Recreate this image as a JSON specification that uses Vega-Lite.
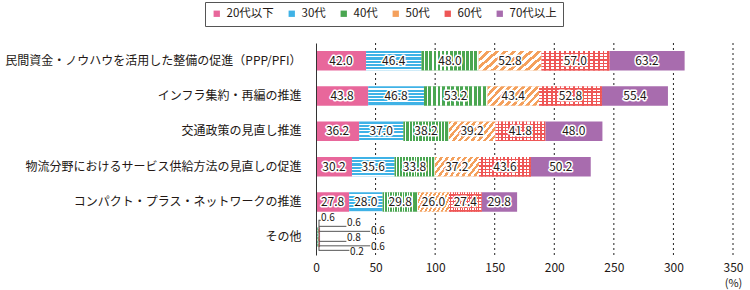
{
  "$schema": "https://vega.github.io/schema/vega-lite/v6.json",
  "width": 417,
  "height": 212,
  "autosize": {"type": "none"},
  "padding": {"left": 316, "top": 43, "right": 17, "bottom": 35},
  "background": "white",
  "config": {
    "font": "Noto Sans CJK JP",
    "view": {"stroke": null},
    "axis": {"labelColor": "#231815", "titleColor": "#231815"},
    "axisX": {"grid": false, "domain": false, "ticks": false, "labelFontSize": 12, "labelPadding": 7, "labelFlush": false, "titleFontSize": 11, "titleFontWeight": "normal", "titleAnchor": "end", "titleAlign": "center", "titleBaseline": "middle", "titleX": 417, "titleY": 28}
  },
  "data": {
    "values": [
      {"item": "民間資金・ノウハウを活用した整備の促進（PPP/PFI）", "20代以下": 42.0, "30代": 46.4, "40代": 48.0, "50代": 52.8, "60代": 57.0, "70代以上": 63.2},
      {"item": "インフラ集約・再編の推進", "20代以下": 43.8, "30代": 46.8, "40代": 53.2, "50代": 43.4, "60代": 52.8, "70代以上": 55.4},
      {"item": "交通政策の見直し推進", "20代以下": 36.2, "30代": 37.0, "40代": 38.2, "50代": 39.2, "60代": 41.8, "70代以上": 48.0},
      {"item": "物流分野におけるサービス供給方法の見直しの促進", "20代以下": 30.2, "30代": 35.6, "40代": 33.8, "50代": 37.2, "60代": 43.6, "70代以上": 50.2},
      {"item": "コンパクト・プラス・ネットワークの推進", "20代以下": 27.8, "30代": 28.0, "40代": 29.8, "50代": 26.0, "60代": 27.4, "70代以上": 29.8},
      {"item": "その他", "20代以下": 0.6, "30代": 0.6, "40代": 0.6, "50代": 0.8, "60代": 0.6, "70代以上": 0.2}
    ]
  },
  "transform": [
    {"fold": ["20代以下", "30代", "40代", "50代", "60代", "70代以上"], "as": ["age", "value"]},
    {"stack": "value", "groupby": ["item"], "sort": [{"field": "age", "order": "ascending"}], "as": ["x0", "x1"]},
    {"calculate": "(datum.x0 + datum.x1) / 2", "as": "mid"}
  ],
  "layer": [
    {
      "transform": [{"filter": "datum.item === 'その他' && datum.age === '20代以下'"}],
      "mark": {"type": "rule", "color": "#222222", "strokeWidth": 1, "strokeDash": [2, 3]},
      "encoding": {"x": {"datum": 50, "type": "quantitative", "title": "(%)"}}
    },
    {
      "transform": [{"filter": "datum.item === 'その他' && datum.age === '20代以下'"}],
      "mark": {"type": "rule", "color": "#222222", "strokeWidth": 1, "strokeDash": [2, 3]},
      "encoding": {"x": {"datum": 100, "type": "quantitative", "title": "(%)"}}
    },
    {
      "transform": [{"filter": "datum.item === 'その他' && datum.age === '20代以下'"}],
      "mark": {"type": "rule", "color": "#222222", "strokeWidth": 1, "strokeDash": [2, 3]},
      "encoding": {"x": {"datum": 150, "type": "quantitative", "title": "(%)"}}
    },
    {
      "transform": [{"filter": "datum.item === 'その他' && datum.age === '20代以下'"}],
      "mark": {"type": "rule", "color": "#222222", "strokeWidth": 1, "strokeDash": [2, 3]},
      "encoding": {"x": {"datum": 200, "type": "quantitative", "title": "(%)"}}
    },
    {
      "transform": [{"filter": "datum.item === 'その他' && datum.age === '20代以下'"}],
      "mark": {"type": "rule", "color": "#222222", "strokeWidth": 1, "strokeDash": [2, 3]},
      "encoding": {"x": {"datum": 250, "type": "quantitative", "title": "(%)"}}
    },
    {
      "transform": [{"filter": "datum.item === 'その他' && datum.age === '20代以下'"}],
      "mark": {"type": "rule", "color": "#222222", "strokeWidth": 1, "strokeDash": [2, 3]},
      "encoding": {"x": {"datum": 300, "type": "quantitative", "title": "(%)"}}
    },
    {
      "transform": [{"filter": "datum.item === 'その他' && datum.age === '20代以下'"}],
      "mark": {"type": "rule", "color": "#222222", "strokeWidth": 1, "strokeDash": [2, 3]},
      "encoding": {"x": {"datum": 350, "type": "quantitative", "title": "(%)"}}
    },
    {
      "mark": {"type": "bar"},
      "encoding": {
        "y": {
          "field": "item",
          "type": "nominal",
          "sort": null,
          "scale": {
            "domain": ["民間資金・ノウハウを活用した整備の促進（PPP/PFI）", "インフラ集約・再編の推進", "交通政策の見直し推進", "物流分野におけるサービス供給方法の見直しの促進", "コンパクト・プラス・ネットワークの推進", "その他"],
            "paddingInner": 0.45,
            "paddingOuter": 0.225
          },
          "axis": {"title": null, "labelFontSize": 12, "labelLimit": 400, "ticks": false, "domain": true, "domainColor": "#333333", "domainWidth": 1, "labelPadding": 15, "zindex": 1, "grid": false}
        },
        "x": {
          "field": "x0",
          "type": "quantitative",
          "title": "(%)",
          "scale": {"domain": [0, 350], "nice": false, "zero": true},
          "axis": {"values": [0, 50, 100, 150, 200, 250, 300, 350], "grid": false}
        },
        "x2": {"field": "x1"},
        "color": {
          "field": "age",
          "type": "nominal",
          "scale": {"domain": ["20代以下", "30代", "40代", "50代", "60代", "70代以上"], "range": ["#e8679b", "#3fb2e6", "#4aa651", "#f4a05c", "#ee5656", "#a86cae"]},
          "legend": {"title": null, "orient": "none", "legendX": -111, "legendY": -41, "direction": "horizontal", "columns": 6, "gridAlign": "none", "symbolType": "square", "symbolSize": 40, "labelFontSize": 11.5, "labelOffset": 4, "columnPadding": 12, "padding": 6, "strokeColor": "#555555", "symbolStrokeWidth": 0, "labelColor": "#231815"}
        }
      }
    },
    {
      "transform": [{"filter": {"field": "age", "equal": "30代"}}],
      "mark": {"type": "bar", "fill": {"gradient": "linear", "x1": 0, "y1": 0, "x2": 0, "y2": 1, "stops": [
        {"offset": 0, "color": "rgba(255,255,255,0)"}, {"offset": 0.1083, "color": "rgba(255,255,255,0)"}, {"offset": 0.1083, "color": "#ffffff"}, {"offset": 0.1667, "color": "#ffffff"},
        {"offset": 0.1667, "color": "rgba(255,255,255,0)"}, {"offset": 0.275, "color": "rgba(255,255,255,0)"}, {"offset": 0.275, "color": "#ffffff"}, {"offset": 0.3333, "color": "#ffffff"},
        {"offset": 0.3333, "color": "rgba(255,255,255,0)"}, {"offset": 0.4417, "color": "rgba(255,255,255,0)"}, {"offset": 0.4417, "color": "#ffffff"}, {"offset": 0.5, "color": "#ffffff"},
        {"offset": 0.5, "color": "rgba(255,255,255,0)"}, {"offset": 0.6083, "color": "rgba(255,255,255,0)"}, {"offset": 0.6083, "color": "#ffffff"}, {"offset": 0.6667, "color": "#ffffff"},
        {"offset": 0.6667, "color": "rgba(255,255,255,0)"}, {"offset": 0.775, "color": "rgba(255,255,255,0)"}, {"offset": 0.775, "color": "#ffffff"}, {"offset": 0.8333, "color": "#ffffff"},
        {"offset": 0.8333, "color": "rgba(255,255,255,0)"}, {"offset": 0.9417, "color": "rgba(255,255,255,0)"}, {"offset": 0.9417, "color": "#ffffff"}, {"offset": 1, "color": "#ffffff"}
      ]}},
      "encoding": {"y": {"field": "item", "type": "nominal"}, "x": {"field": "x0", "type": "quantitative", "title": "(%)"}, "x2": {"field": "x1"}}
    },
    {
      "transform": [{"filter": {"field": "age", "equal": "40代"}}],
      "mark": {"type": "bar", "fill": {"gradient": "linear", "x1": 0, "y1": 0, "x2": 1, "y2": 0, "stops": [
        {"offset": 0, "color": "rgba(255,255,255,0)"}, {"offset": 0.0464, "color": "rgba(255,255,255,0)"}, {"offset": 0.0464, "color": "#ffffff"}, {"offset": 0.0714, "color": "#ffffff"},
        {"offset": 0.0714, "color": "rgba(255,255,255,0)"}, {"offset": 0.1179, "color": "rgba(255,255,255,0)"}, {"offset": 0.1179, "color": "#ffffff"}, {"offset": 0.1429, "color": "#ffffff"},
        {"offset": 0.1429, "color": "rgba(255,255,255,0)"}, {"offset": 0.1893, "color": "rgba(255,255,255,0)"}, {"offset": 0.1893, "color": "#ffffff"}, {"offset": 0.2143, "color": "#ffffff"},
        {"offset": 0.2143, "color": "rgba(255,255,255,0)"}, {"offset": 0.2607, "color": "rgba(255,255,255,0)"}, {"offset": 0.2607, "color": "#ffffff"}, {"offset": 0.2857, "color": "#ffffff"},
        {"offset": 0.2857, "color": "rgba(255,255,255,0)"}, {"offset": 0.3321, "color": "rgba(255,255,255,0)"}, {"offset": 0.3321, "color": "#ffffff"}, {"offset": 0.3571, "color": "#ffffff"},
        {"offset": 0.3571, "color": "rgba(255,255,255,0)"}, {"offset": 0.4036, "color": "rgba(255,255,255,0)"}, {"offset": 0.4036, "color": "#ffffff"}, {"offset": 0.4286, "color": "#ffffff"},
        {"offset": 0.4286, "color": "rgba(255,255,255,0)"}, {"offset": 0.475, "color": "rgba(255,255,255,0)"}, {"offset": 0.475, "color": "#ffffff"}, {"offset": 0.5, "color": "#ffffff"},
        {"offset": 0.5, "color": "rgba(255,255,255,0)"}, {"offset": 0.5464, "color": "rgba(255,255,255,0)"}, {"offset": 0.5464, "color": "#ffffff"}, {"offset": 0.5714, "color": "#ffffff"},
        {"offset": 0.5714, "color": "rgba(255,255,255,0)"}, {"offset": 0.6179, "color": "rgba(255,255,255,0)"}, {"offset": 0.6179, "color": "#ffffff"}, {"offset": 0.6429, "color": "#ffffff"},
        {"offset": 0.6429, "color": "rgba(255,255,255,0)"}, {"offset": 0.6893, "color": "rgba(255,255,255,0)"}, {"offset": 0.6893, "color": "#ffffff"}, {"offset": 0.7143, "color": "#ffffff"},
        {"offset": 0.7143, "color": "rgba(255,255,255,0)"}, {"offset": 0.7607, "color": "rgba(255,255,255,0)"}, {"offset": 0.7607, "color": "#ffffff"}, {"offset": 0.7857, "color": "#ffffff"},
        {"offset": 0.7857, "color": "rgba(255,255,255,0)"}, {"offset": 0.8321, "color": "rgba(255,255,255,0)"}, {"offset": 0.8321, "color": "#ffffff"}, {"offset": 0.8571, "color": "#ffffff"},
        {"offset": 0.8571, "color": "rgba(255,255,255,0)"}, {"offset": 0.9036, "color": "rgba(255,255,255,0)"}, {"offset": 0.9036, "color": "#ffffff"}, {"offset": 0.9286, "color": "#ffffff"},
        {"offset": 0.9286, "color": "rgba(255,255,255,0)"}, {"offset": 0.975, "color": "rgba(255,255,255,0)"}, {"offset": 0.975, "color": "#ffffff"}, {"offset": 1, "color": "#ffffff"}
      ]}},
      "encoding": {"y": {"field": "item", "type": "nominal"}, "x": {"field": "x0", "type": "quantitative", "title": "(%)"}, "x2": {"field": "x1"}}
    },
    {
      "transform": [{"filter": {"field": "age", "equal": "50代"}}],
      "mark": {"type": "bar", "fill": {"gradient": "linear", "x1": 0, "y1": 0, "x2": 1.2, "y2": 0.42, "stops": [
        {"offset": 0, "color": "rgba(255,255,255,0)"}, {"offset": 0.05, "color": "rgba(255,255,255,0)"}, {"offset": 0.05, "color": "#ffffff"}, {"offset": 0.1, "color": "#ffffff"},
        {"offset": 0.1, "color": "rgba(255,255,255,0)"}, {"offset": 0.15, "color": "rgba(255,255,255,0)"}, {"offset": 0.15, "color": "#ffffff"}, {"offset": 0.2, "color": "#ffffff"},
        {"offset": 0.2, "color": "rgba(255,255,255,0)"}, {"offset": 0.25, "color": "rgba(255,255,255,0)"}, {"offset": 0.25, "color": "#ffffff"}, {"offset": 0.3, "color": "#ffffff"},
        {"offset": 0.3, "color": "rgba(255,255,255,0)"}, {"offset": 0.35, "color": "rgba(255,255,255,0)"}, {"offset": 0.35, "color": "#ffffff"}, {"offset": 0.4, "color": "#ffffff"},
        {"offset": 0.4, "color": "rgba(255,255,255,0)"}, {"offset": 0.45, "color": "rgba(255,255,255,0)"}, {"offset": 0.45, "color": "#ffffff"}, {"offset": 0.5, "color": "#ffffff"},
        {"offset": 0.5, "color": "rgba(255,255,255,0)"}, {"offset": 0.55, "color": "rgba(255,255,255,0)"}, {"offset": 0.55, "color": "#ffffff"}, {"offset": 0.6, "color": "#ffffff"},
        {"offset": 0.6, "color": "rgba(255,255,255,0)"}, {"offset": 0.65, "color": "rgba(255,255,255,0)"}, {"offset": 0.65, "color": "#ffffff"}, {"offset": 0.7, "color": "#ffffff"},
        {"offset": 0.7, "color": "rgba(255,255,255,0)"}, {"offset": 0.75, "color": "rgba(255,255,255,0)"}, {"offset": 0.75, "color": "#ffffff"}, {"offset": 0.8, "color": "#ffffff"},
        {"offset": 0.8, "color": "rgba(255,255,255,0)"}, {"offset": 0.85, "color": "rgba(255,255,255,0)"}, {"offset": 0.85, "color": "#ffffff"}, {"offset": 0.9, "color": "#ffffff"},
        {"offset": 0.9, "color": "rgba(255,255,255,0)"}, {"offset": 0.95, "color": "rgba(255,255,255,0)"}, {"offset": 0.95, "color": "#ffffff"}, {"offset": 1, "color": "#ffffff"}
      ]}},
      "encoding": {"y": {"field": "item", "type": "nominal"}, "x": {"field": "x0", "type": "quantitative", "title": "(%)"}, "x2": {"field": "x1"}}
    },
    {
      "transform": [{"filter": {"field": "age", "equal": "60代"}}],
      "mark": {"type": "bar", "fill": "#ffffff"},
      "encoding": {"y": {"field": "item", "type": "nominal"}, "x": {"field": "x0", "type": "quantitative", "title": "(%)"}, "x2": {"field": "x1"}}
    },
    {
      "transform": [{"filter": {"field": "age", "equal": "60代"}}],
      "mark": {"type": "bar", "fill": {"gradient": "linear", "x1": 0, "y1": 0, "x2": 0, "y2": 1, "stops": [
        {"offset": 0, "color": "rgba(238,86,86,0)"}, {"offset": 0.1, "color": "rgba(238,86,86,0)"}, {"offset": 0.1, "color": "#ee5656"}, {"offset": 0.1667, "color": "#ee5656"},
        {"offset": 0.1667, "color": "rgba(238,86,86,0)"}, {"offset": 0.2667, "color": "rgba(238,86,86,0)"}, {"offset": 0.2667, "color": "#ee5656"}, {"offset": 0.3333, "color": "#ee5656"},
        {"offset": 0.3333, "color": "rgba(238,86,86,0)"}, {"offset": 0.4333, "color": "rgba(238,86,86,0)"}, {"offset": 0.4333, "color": "#ee5656"}, {"offset": 0.5, "color": "#ee5656"},
        {"offset": 0.5, "color": "rgba(238,86,86,0)"}, {"offset": 0.6, "color": "rgba(238,86,86,0)"}, {"offset": 0.6, "color": "#ee5656"}, {"offset": 0.6667, "color": "#ee5656"},
        {"offset": 0.6667, "color": "rgba(238,86,86,0)"}, {"offset": 0.7667, "color": "rgba(238,86,86,0)"}, {"offset": 0.7667, "color": "#ee5656"}, {"offset": 0.8333, "color": "#ee5656"},
        {"offset": 0.8333, "color": "rgba(238,86,86,0)"}, {"offset": 0.9333, "color": "rgba(238,86,86,0)"}, {"offset": 0.9333, "color": "#ee5656"}, {"offset": 1, "color": "#ee5656"}
      ]}},
      "encoding": {"y": {"field": "item", "type": "nominal"}, "x": {"field": "x0", "type": "quantitative", "title": "(%)"}, "x2": {"field": "x1"}}
    },
    {
      "transform": [{"filter": {"field": "age", "equal": "60代"}}],
      "mark": {"type": "bar", "fill": {"gradient": "linear", "x1": 0, "y1": 0, "x2": 1, "y2": 0, "stops": [
        {"offset": 0, "color": "rgba(238,86,86,0)"}, {"offset": 0.0429, "color": "rgba(238,86,86,0)"}, {"offset": 0.0429, "color": "#ee5656"}, {"offset": 0.0714, "color": "#ee5656"},
        {"offset": 0.0714, "color": "rgba(238,86,86,0)"}, {"offset": 0.1143, "color": "rgba(238,86,86,0)"}, {"offset": 0.1143, "color": "#ee5656"}, {"offset": 0.1429, "color": "#ee5656"},
        {"offset": 0.1429, "color": "rgba(238,86,86,0)"}, {"offset": 0.1857, "color": "rgba(238,86,86,0)"}, {"offset": 0.1857, "color": "#ee5656"}, {"offset": 0.2143, "color": "#ee5656"},
        {"offset": 0.2143, "color": "rgba(238,86,86,0)"}, {"offset": 0.2571, "color": "rgba(238,86,86,0)"}, {"offset": 0.2571, "color": "#ee5656"}, {"offset": 0.2857, "color": "#ee5656"},
        {"offset": 0.2857, "color": "rgba(238,86,86,0)"}, {"offset": 0.3286, "color": "rgba(238,86,86,0)"}, {"offset": 0.3286, "color": "#ee5656"}, {"offset": 0.3571, "color": "#ee5656"},
        {"offset": 0.3571, "color": "rgba(238,86,86,0)"}, {"offset": 0.4, "color": "rgba(238,86,86,0)"}, {"offset": 0.4, "color": "#ee5656"}, {"offset": 0.4286, "color": "#ee5656"},
        {"offset": 0.4286, "color": "rgba(238,86,86,0)"}, {"offset": 0.4714, "color": "rgba(238,86,86,0)"}, {"offset": 0.4714, "color": "#ee5656"}, {"offset": 0.5, "color": "#ee5656"},
        {"offset": 0.5, "color": "rgba(238,86,86,0)"}, {"offset": 0.5429, "color": "rgba(238,86,86,0)"}, {"offset": 0.5429, "color": "#ee5656"}, {"offset": 0.5714, "color": "#ee5656"},
        {"offset": 0.5714, "color": "rgba(238,86,86,0)"}, {"offset": 0.6143, "color": "rgba(238,86,86,0)"}, {"offset": 0.6143, "color": "#ee5656"}, {"offset": 0.6429, "color": "#ee5656"},
        {"offset": 0.6429, "color": "rgba(238,86,86,0)"}, {"offset": 0.6857, "color": "rgba(238,86,86,0)"}, {"offset": 0.6857, "color": "#ee5656"}, {"offset": 0.7143, "color": "#ee5656"},
        {"offset": 0.7143, "color": "rgba(238,86,86,0)"}, {"offset": 0.7571, "color": "rgba(238,86,86,0)"}, {"offset": 0.7571, "color": "#ee5656"}, {"offset": 0.7857, "color": "#ee5656"},
        {"offset": 0.7857, "color": "rgba(238,86,86,0)"}, {"offset": 0.8286, "color": "rgba(238,86,86,0)"}, {"offset": 0.8286, "color": "#ee5656"}, {"offset": 0.8571, "color": "#ee5656"},
        {"offset": 0.8571, "color": "rgba(238,86,86,0)"}, {"offset": 0.9, "color": "rgba(238,86,86,0)"}, {"offset": 0.9, "color": "#ee5656"}, {"offset": 0.9286, "color": "#ee5656"},
        {"offset": 0.9286, "color": "rgba(238,86,86,0)"}, {"offset": 0.9714, "color": "rgba(238,86,86,0)"}, {"offset": 0.9714, "color": "#ee5656"}, {"offset": 1, "color": "#ee5656"}
      ]}},
      "encoding": {"y": {"field": "item", "type": "nominal"}, "x": {"field": "x0", "type": "quantitative", "title": "(%)"}, "x2": {"field": "x1"}}
    },
    {
      "transform": [{"filter": "datum.item !== 'その他'"}],
      "mark": {"type": "text", "fontSize": 12, "align": "center", "baseline": "middle", "fill": "#231815", "stroke": "#ffffff", "strokeWidth": 3, "strokeJoin": "round"},
      "encoding": {"y": {"field": "item", "type": "nominal"}, "x": {"field": "mid", "type": "quantitative", "title": "(%)"}, "text": {"field": "value", "type": "quantitative", "format": ".1f"}}
    },
    {
      "transform": [{"filter": "datum.item !== 'その他'"}],
      "mark": {"type": "text", "fontSize": 12, "align": "center", "baseline": "middle", "fill": "#231815"},
      "encoding": {"y": {"field": "item", "type": "nominal"}, "x": {"field": "mid", "type": "quantitative", "title": "(%)"}, "text": {"field": "value", "type": "quantitative", "format": ".1f"}}
    },
    {
      "transform": [{"filter": "datum.item === 'その他' && datum.age === '20代以下'"}],
      "mark": {"type": "tick", "orient": "vertical", "size": 31, "thickness": 1, "color": "#555555", "opacity": 1, "yOffset": -2},
      "encoding": {"y": {"field": "item", "type": "nominal"}, "x": {"datum": 2.5, "type": "quantitative", "title": "(%)"}}
    },
    {
      "transform": [{"filter": "datum.item === 'その他' && datum.age === '20代以下'"}],
      "mark": {"type": "rule", "color": "#555555", "strokeWidth": 1, "yOffset": -17},
      "encoding": {"y": {"field": "item", "type": "nominal"}, "x": {"datum": 2.5, "type": "quantitative", "title": "(%)"}, "x2": {"datum": 4.0}}
    },
    {
      "transform": [{"filter": "datum.item === 'その他' && datum.age === '20代以下'"}],
      "mark": {"type": "rule", "color": "#555555", "strokeWidth": 1, "yOffset": -11},
      "encoding": {"y": {"field": "item", "type": "nominal"}, "x": {"datum": 2.5, "type": "quantitative", "title": "(%)"}, "x2": {"datum": 25.5}}
    },
    {
      "transform": [{"filter": "datum.item === 'その他' && datum.age === '20代以下'"}],
      "mark": {"type": "rule", "color": "#555555", "strokeWidth": 1, "yOffset": -6},
      "encoding": {"y": {"field": "item", "type": "nominal"}, "x": {"datum": 2.5, "type": "quantitative", "title": "(%)"}, "x2": {"datum": 45.5}}
    },
    {
      "transform": [{"filter": "datum.item === 'その他' && datum.age === '20代以下'"}],
      "mark": {"type": "rule", "color": "#555555", "strokeWidth": 1, "yOffset": 4},
      "encoding": {"y": {"field": "item", "type": "nominal"}, "x": {"datum": 2.5, "type": "quantitative", "title": "(%)"}, "x2": {"datum": 25.5}}
    },
    {
      "transform": [{"filter": "datum.item === 'その他' && datum.age === '20代以下'"}],
      "mark": {"type": "rule", "color": "#555555", "strokeWidth": 1, "yOffset": 8.5},
      "encoding": {"y": {"field": "item", "type": "nominal"}, "x": {"datum": 2.5, "type": "quantitative", "title": "(%)"}, "x2": {"datum": 45.5}}
    },
    {
      "transform": [{"filter": "datum.item === 'その他' && datum.age === '20代以下'"}],
      "mark": {"type": "rule", "color": "#555555", "strokeWidth": 1, "yOffset": 13},
      "encoding": {"y": {"field": "item", "type": "nominal"}, "x": {"datum": 2.5, "type": "quantitative", "title": "(%)"}, "x2": {"datum": 28}}
    },
    {
      "transform": [{"filter": "datum.item === 'その他' && datum.age === '20代以下'"}],
      "mark": {"type": "text", "fontSize": 10, "align": "left", "baseline": "middle", "fill": "#231815", "dy": -19},
      "encoding": {"y": {"field": "item", "type": "nominal"}, "x": {"datum": 4.2, "type": "quantitative", "title": "(%)"}, "text": {"field": "value", "type": "quantitative", "format": ".1f"}}
    },
    {
      "transform": [{"filter": "datum.item === 'その他' && datum.age === '30代'"}],
      "mark": {"type": "text", "fontSize": 10, "align": "left", "baseline": "middle", "fill": "#231815", "dy": -14},
      "encoding": {"y": {"field": "item", "type": "nominal"}, "x": {"datum": 26, "type": "quantitative", "title": "(%)"}, "text": {"field": "value", "type": "quantitative", "format": ".1f"}}
    },
    {
      "transform": [{"filter": "datum.item === 'その他' && datum.age === '40代'"}],
      "mark": {"type": "text", "fontSize": 10, "align": "left", "baseline": "middle", "fill": "#231815", "dy": -6},
      "encoding": {"y": {"field": "item", "type": "nominal"}, "x": {"datum": 46.2, "type": "quantitative", "title": "(%)"}, "text": {"field": "value", "type": "quantitative", "format": ".1f"}}
    },
    {
      "transform": [{"filter": "datum.item === 'その他' && datum.age === '50代'"}],
      "mark": {"type": "text", "fontSize": 10, "align": "left", "baseline": "middle", "fill": "#231815", "dy": 1},
      "encoding": {"y": {"field": "item", "type": "nominal"}, "x": {"datum": 26, "type": "quantitative", "title": "(%)"}, "text": {"field": "value", "type": "quantitative", "format": ".1f"}}
    },
    {
      "transform": [{"filter": "datum.item === 'その他' && datum.age === '60代'"}],
      "mark": {"type": "text", "fontSize": 10, "align": "left", "baseline": "middle", "fill": "#231815", "dy": 9.5},
      "encoding": {"y": {"field": "item", "type": "nominal"}, "x": {"datum": 46.2, "type": "quantitative", "title": "(%)"}, "text": {"field": "value", "type": "quantitative", "format": ".1f"}}
    },
    {
      "transform": [{"filter": "datum.item === 'その他' && datum.age === '70代以上'"}],
      "mark": {"type": "text", "fontSize": 10, "align": "left", "baseline": "middle", "fill": "#231815", "dy": 14.5},
      "encoding": {"y": {"field": "item", "type": "nominal"}, "x": {"datum": 28.5, "type": "quantitative", "title": "(%)"}, "text": {"field": "value", "type": "quantitative", "format": ".1f"}}
    }
  ]
}
